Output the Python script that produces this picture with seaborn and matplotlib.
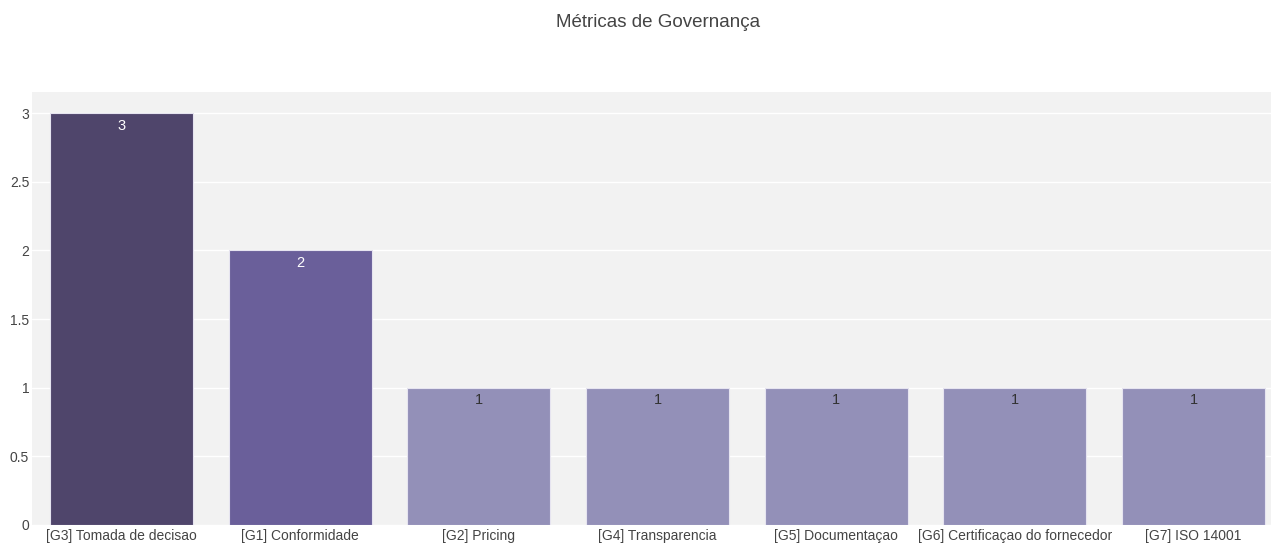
import seaborn as sns
import pandas as pd
import matplotlib.pyplot as plt

metricas = ["[G3] Tomada de decisao", "[G1] Conformidade", "[G2] Pricing", "[G4] Transparencia",
            "[G5] Documentaçao", "[G6] Certificaçao do fornecedor", "[G7] ISO 14001"]
contagens = [3, 2, 1, 1, 1, 1, 1]
cores = ["#4f456b", "#6a5f9a", "#9390b8", "#9390b8", "#9390b8", "#9390b8", "#9390b8"]
cores_texto = ["white", "white", "#333333", "#333333", "#333333", "#333333", "#333333"]

df = pd.DataFrame({"Metrica": metricas, "Contagem": contagens})

sns.set_style("white")
plt.rcParams['font.family'] = ['Liberation Sans', 'DejaVu Sans']

fig = plt.figure(figsize=(12.71, 5.44), dpi=100)
ax = fig.add_axes([32 / 1271, (544 - 525) / 544, (1271 - 32) / 1271, (525 - 92) / 544])
ax.set_facecolor("#f2f2f2")

sns.barplot(data=df, x="Metrica", y="Contagem", hue="Metrica", palette=cores, saturation=1,
            legend=False, width=0.8, edgecolor="#e6e4f0", linewidth=0.8, ax=ax, zorder=3)

for i, (v, c) in enumerate(zip(contagens, cores_texto)):
    ax.text(i, v - 0.04, str(v), ha="center", va="top", color=c, fontsize=10.5, zorder=4)

ax.set_xlim(-0.5, 6.433)
ax.set_ylim(0, 3.154)
ax.set_yticks([0, 0.5, 1, 1.5, 2, 2.5, 3])
ax.set_yticklabels(["0", "0.5", "1", "1.5", "2", "2.5", "3"])
ax.yaxis.grid(True, color="white", linewidth=1, zorder=0)
ax.set_axisbelow(True)
for s in ax.spines.values():
    s.set_visible(False)
ax.tick_params(axis="both", length=0, labelsize=10, colors="#444444")
ax.tick_params(axis="y", pad=2)
ax.tick_params(axis="x", pad=3)
ax.set_xlabel("")
ax.set_ylabel("")

fig.text(658 / 1271, 0.974, "Métricas de Governança", ha="center", va="top",
         fontsize=13.5, color="#444444")

fig.savefig("out.png", dpi=100)
